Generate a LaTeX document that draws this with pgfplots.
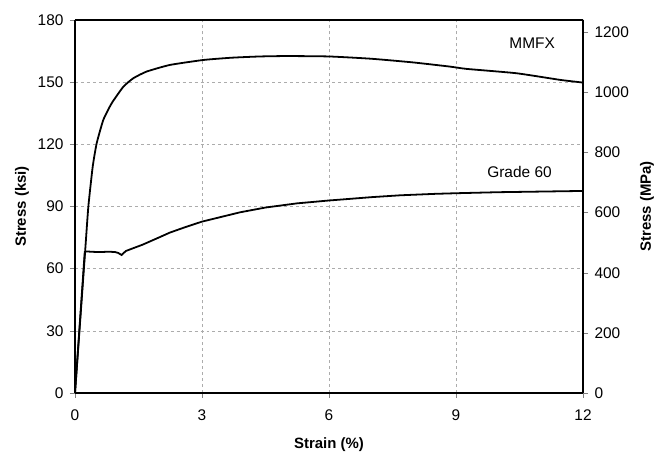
\documentclass[border=0pt]{standalone}
\usepackage{pgfplots}
\pgfplotsset{compat=1.18}
\usepackage{fontspec}
\setmainfont{Liberation Sans}
\begin{document}
\begin{tikzpicture}[font=\fontsize{15.5}{18}\selectfont]
\pgfplotsset{
  common/.style={
    scale only axis, width=508bp, height=373bp,
    xmin=0, xmax=12,
    tick align=outside, major tick length=5bp,
    tick style={gray, thin},
    /pgf/number format/assume math mode=true,
    /pgf/number format/1000 sep={},
    tick label style={font=\fontsize{15.5}{18}\selectfont},
    label style={font=\fontsize{15}{18}\selectfont\bfseries},
  }
}
\begin{axis}[
  common, name=ax,
  ymin=0, ymax=180,
  xtick={0,3,...,12}, ytick={0,30,...,180},
  axis y line*=left, axis x line*=bottom,
  axis line style={line width=1.4pt, -},
  grid=major, grid style={dashed, gray!65, line width=0.6pt},
  xlabel={Strain (\%)}, ylabel={Stress (ksi)},
  xticklabel style={yshift=-8bp},
  yticklabel style={xshift=-3bp},
  xlabel style={at={(rel axis cs:0.5,0)}, anchor=center, yshift=-52bp},
  ylabel style={at={(rel axis cs:0,0.5)}, anchor=center, yshift=53bp},
]
% MMFX
\addplot[black, line width=1.8pt, mark=none, smooth, tension=0.3] coordinates {
  (0,0) (0.236,67.4) (0.315,89.9) (0.418,109.2) (0.512,120.5) (0.669,131.8)
  (0.866,139.8) (1.142,147.8) (1.378,151.9) (1.69,155.1) (2.24,158.3)
  (3.03,160.7) (3.7,161.8) (4.37,162.4) (5,162.6) (6,162.4) (7,161.3)
  (8,159.5) (8.86,157.5) (9.25,156.4) (10.43,154.3) (11.46,151.1) (12,149.8)
};
% Grade 60
\addplot[black, line width=1.8pt, mark=none] coordinates {
  (0,0) (0.23,68) (0.27,68.3) (0.45,68.1) (0.6,68) (0.8,68.2) (0.95,68)
  (1.02,67.6) (1.1,66.6) (1.2,68.5) (1.3,69.3) (1.6,71.6) (2,75.2)
  (2.24,77.4) (2.6,80) (3,82.7) (3.5,85.2) (3.9,87.2) (4.5,89.5)
  (5.24,91.5) (6,92.9) (6.38,93.5) (7,94.5) (7.68,95.4) (8.5,96.1)
  (9,96.4) (10,96.9) (11,97.2) (12,97.5)
};
\node at (axis cs:10.8,168.8) {MMFX};
\node at (axis cs:10.5,106.8) {Grade 60};
\draw[line width=1.4pt] (rel axis cs:0,1) -- (rel axis cs:1,1) -- (rel axis cs:1,0);
\end{axis}
\begin{axis}[
  common,
  ymin=0, ymax=1241.06,
  ytick={0,200,...,1200},
  axis y line*=right, axis x line=none,
  axis line style={line width=1.4pt, -},
  yticklabel style={xshift=3bp},
  ylabel={Stress (MPa)},
  ylabel style={at={(rel axis cs:1,0.5)}, anchor=center, yshift=-64bp},
]
\end{axis}
\path[use as bounding box] ([xshift=-75bp,yshift=-59bp]ax.south west) rectangle ([xshift=79bp,yshift=20bp]ax.north east);
\end{tikzpicture}
\end{document}
